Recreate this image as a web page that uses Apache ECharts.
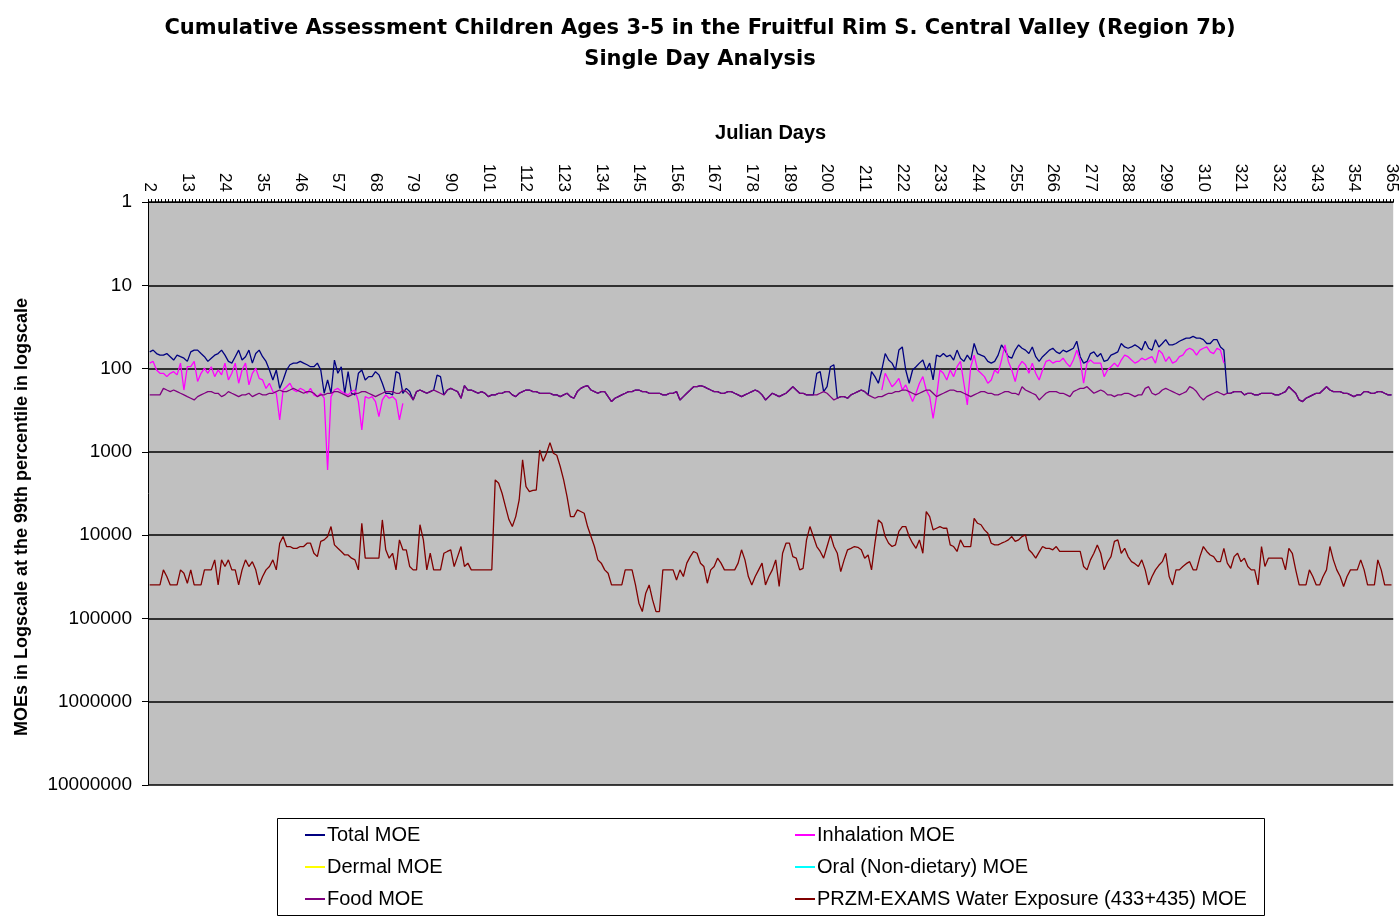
<!DOCTYPE html>
<html>
<head>
<meta charset="utf-8">
<script src="https://cdn.jsdelivr.net/npm/echarts@6.0.0/dist/echarts.min.js"></script>
<style>
html,body{margin:0;padding:0;background:#fff;}
#chart{width:1400px;height:917px;}
</style>
</head>
<body>
<div id="chart"></div>
<script>
// ---- categories (Julian days) ----
const firstDay = 2;
const lastDay = 365;
const days = [];
for (let d = firstDay; d <= lastDay; d++) days.push(String(d));

// ---- series values, one per day from day 2 to day 365 ----
const totalMOE = [
  63, 60, 66, 69, 69, 66, 72, 79, 69, 72,
  75, 82, 63, 60, 60, 66, 72, 82, 75, 69,
  66, 60, 69, 82, 86, 72, 60, 79, 72, 60,
  86, 66, 60, 72, 82, 104, 137, 104, 173, 137,
  104, 90, 86, 86, 82, 86, 90, 95, 95, 86,
  104, 198, 137, 198, 79, 114, 95, 198, 109, 198,
  207, 114, 104, 137, 125, 125, 109, 119, 150, 198,
  198, 207, 109, 114, 198, 173, 189, 238, 189, 181,
  189, 198, 189, 181, 120, 125, 207, 181, 173, 181,
  189, 227, 160, 181, 181, 189, 198, 189, 198, 217,
  207, 207, 198, 198, 189, 189, 207, 217, 198, 189,
  181, 181, 189, 189, 198, 198, 198, 198, 207, 207,
  217, 207, 198, 217, 227, 189, 173, 165, 160, 181,
  189, 198, 189, 189, 217, 249, 227, 217, 207, 198,
  189, 189, 181, 181, 189, 189, 198, 198, 198, 198,
  207, 207, 198, 198, 189, 238, 217, 198, 181, 165,
  165, 160, 165, 173, 181, 189, 189, 198, 198, 189,
  189, 198, 207, 217, 207, 198, 189, 181, 189, 207,
  238, 217, 198, 207, 217, 207, 198, 181, 165, 181,
  198, 198, 207, 207, 207, 114, 109, 189, 165, 95,
  90, 227, 217, 217, 227, 207, 198, 189, 181, 189,
  207, 109, 125, 150, 104, 66, 79, 86, 104, 60,
  55, 104, 150, 104, 95, 86, 79, 104, 86, 137,
  69, 72, 66, 72, 69, 79, 60, 75, 82, 69,
  79, 50, 66, 69, 72, 82, 86, 82, 69, 52,
  60, 72, 75, 60, 52, 57, 60, 66, 55, 72,
  82, 72, 66, 60, 57, 63, 66, 60, 63, 60,
  57, 47, 72, 86, 82, 66, 63, 72, 66, 82,
  79, 69, 66, 63, 50, 55, 57, 55, 52, 55,
  60, 47, 57, 60, 45, 55, 50, 45, 52, 52,
  50, 47, 45, 43, 43, 41, 43, 43, 45, 50,
  50, 45, 45, 55, 60, 198, 198, 189, 189, 189,
  207, 198, 198, 207, 207, 198, 198, 198, 198, 207,
  207, 198, 189, 165, 181, 198, 238, 249, 227, 217,
  207, 198, 198, 181, 165, 181, 189, 189, 189, 198,
  198, 207, 217, 207, 207, 189, 189, 198, 198, 189,
  189, 198, 207, 207
];

// inhalation is only present on two stretches of the year
const inhalationSpringStart = 2;
const inhalationSpring = [
  86, 82, 104, 114, 114, 125, 114, 109, 119, 86,
  181, 95, 95, 82, 143, 114, 99, 114, 95, 125,
  104, 119, 86, 137, 114, 86, 150, 104, 86, 157,
  114, 99, 131, 137, 173, 150, 189, 198, 414, 181,
  165, 150, 181, 189, 173, 181, 198, 173, 207, 217,
  198, 227, 1650, 217, 181, 173, 189, 198, 207, 189,
  181, 249, 546, 217, 227, 217, 249, 378, 238, 207,
  227, 217, 238, 414, 261
];
const inhalationFallStart = 216;
const inhalationFall = [
  181, 114, 137, 165, 150, 131, 181, 157, 198, 249,
  198, 150, 125, 181, 217, 396, 217, 104, 114, 137,
  104, 125, 95, 82, 150, 273, 95, 69, 104, 114,
  125, 150, 137, 104, 114, 79, 52, 82, 104, 143,
  95, 82, 90, 114, 86, 114, 137, 104, 82, 79,
  86, 82, 82, 75, 86, 95, 79, 60, 79, 150,
  86, 79, 86, 86, 86, 125, 104, 95, 86, 95,
  79, 69, 72, 79, 86, 82, 75, 79, 75, 72,
  86, 60, 66, 82, 72, 86, 82, 72, 69, 60,
  57, 60, 69, 60, 57, 55, 63, 66, 57, 60,
  86
];

const dermalMOE = [];
const oralMOE = [];

const foodMOE = [
  207, 207, 207, 207, 173, 181, 189, 181, 189, 198,
  207, 217, 227, 238, 217, 207, 198, 189, 189, 198,
  198, 217, 207, 189, 198, 207, 217, 207, 207, 198,
  217, 207, 198, 207, 207, 198, 198, 189, 181, 189,
  189, 181, 173, 181, 189, 198, 189, 189, 198, 217,
  207, 207, 198, 198, 189, 189, 198, 207, 217, 207,
  198, 198, 189, 189, 198, 207, 217, 207, 198, 189,
  189, 189, 198, 198, 181, 189, 207, 238, 189, 181,
  189, 198, 189, 181, 189, 198, 207, 181, 173, 181,
  189, 227, 160, 181, 181, 189, 198, 189, 198, 217,
  207, 207, 198, 198, 189, 189, 207, 217, 198, 189,
  181, 181, 189, 189, 198, 198, 198, 198, 207, 207,
  217, 207, 198, 217, 227, 189, 173, 165, 160, 181,
  189, 198, 189, 189, 217, 249, 227, 217, 207, 198,
  189, 189, 181, 181, 189, 189, 198, 198, 198, 198,
  207, 207, 198, 198, 189, 238, 217, 198, 181, 165,
  165, 160, 165, 173, 181, 189, 189, 198, 198, 189,
  189, 198, 207, 217, 207, 198, 189, 181, 189, 207,
  238, 217, 198, 207, 217, 207, 198, 181, 165, 181,
  198, 198, 207, 207, 207, 207, 198, 189, 198, 217,
  238, 227, 217, 217, 227, 207, 198, 189, 181, 189,
  207, 217, 227, 217, 217, 207, 198, 198, 189, 189,
  181, 181, 189, 198, 207, 198, 189, 181, 181, 198,
  217, 207, 198, 189, 181, 181, 189, 189, 198, 207,
  217, 207, 198, 189, 189, 198, 198, 207, 207, 198,
  189, 189, 198, 198, 207, 165, 181, 189, 198, 207,
  238, 217, 198, 189, 189, 189, 198, 198, 207, 217,
  189, 181, 173, 173, 165, 181, 198, 189, 181, 189,
  207, 207, 217, 207, 207, 198, 198, 207, 217, 207,
  207, 173, 165, 198, 207, 198, 181, 173, 181, 189,
  198, 207, 198, 189, 165, 173, 189, 217, 238, 217,
  207, 198, 189, 198, 207, 198, 198, 189, 189, 189,
  207, 198, 198, 207, 207, 198, 198, 198, 198, 207,
  207, 198, 189, 165, 181, 198, 238, 249, 227, 217,
  207, 198, 198, 181, 165, 181, 189, 189, 189, 198,
  198, 207, 217, 207, 207, 189, 189, 198, 198, 189,
  189, 198, 207, 207
];

const waterMOE = [
  39600, 39600, 39600, 39600, 26100, 31400, 39600, 39600, 39600, 26100,
  28700, 37800, 26100, 39600, 39600, 39600, 26100, 26100, 26100, 19800,
  39600, 19800, 23800, 19800, 26100, 26100, 39600, 26100, 19800, 23800,
  20800, 26100, 39600, 31400, 26100, 23800, 19800, 26100, 12500, 10400,
  13700, 13700, 14400, 14400, 13700, 13700, 12500, 12500, 16500, 18100,
  11900, 11400, 10400, 7890, 13100, 14400, 15700, 17300, 17300, 18900,
  19800, 26100, 7200, 18900, 18900, 18900, 18900, 18900, 6570, 15000,
  18900, 16500, 26100, 11400, 15000, 15000, 23800, 26100, 26100, 7500,
  11400, 26100, 16500, 26100, 26100, 26100, 16500, 15700, 15000, 23800,
  18100, 13700, 23800, 21700, 26100, 26100, 26100, 26100, 26100, 26100,
  26100, 2170, 2380, 3140, 4540, 6500, 7890, 5990, 3780, 1250,
  2610, 3000, 2900, 2870, 950, 1300, 1040, 775, 1040, 1100,
  1500, 2170, 3450, 5990, 5990, 4980, 5200, 5460, 7890, 10400,
  13700, 19800, 21700, 26100, 28700, 39600, 39600, 39600, 39600, 26100,
  26100, 26100, 39600, 65700, 82700, 49800, 39600, 59900, 82700, 82700,
  26100, 26100, 26100, 26100, 34500, 26100, 31400, 21700, 18100, 15700,
  16500, 21700, 23800, 37800, 26100, 23800, 18900, 21700, 26100, 26100,
  26100, 26100, 21700, 15000, 19800, 31400, 39600, 31400, 26100, 21700,
  39600, 31400, 26100, 19800, 41400, 16500, 12500, 12500, 18100, 18900,
  26100, 25000, 11400, 7890, 10400, 13700, 15700, 18900, 13700, 9940,
  13700, 16500, 27400, 19800, 15000, 14400, 13700, 14000, 15000, 18900,
  17300, 26100, 12500, 6570, 7200, 10400, 12500, 13700, 13100, 9000,
  7890, 7890, 10400, 12500, 14400, 11400, 16500, 5220, 5990, 8650,
  8260, 7890, 8260, 8260, 13100, 13700, 15700, 11400, 13700, 13700,
  13700, 6270, 7200, 7500, 8650, 9490, 12500, 13100, 13100, 12500,
  12000, 11400, 10400, 11900, 11400, 10400, 9940, 15000, 16500, 18900,
  16000, 13700, 14400, 14400, 15000, 13700, 15700, 15700, 15700, 15700,
  15700, 15700, 15700, 23800, 26100, 19800, 16500, 13100, 16500, 26100,
  21000, 18100, 11900, 11400, 16500, 14400, 18100, 20800, 22000, 23800,
  19800, 26100, 39600, 31400, 26100, 23000, 20800, 16500, 31400, 39600,
  26100, 26100, 23800, 22000, 20800, 26100, 26100, 18100, 13700, 15700,
  17300, 18100, 20800, 20800, 14400, 21700, 25000, 18100, 16500, 20800,
  18900, 23800, 26100, 26100, 39600, 13700, 23800, 18900, 18900, 18900,
  18900, 18900, 26100, 14400, 16500, 26100, 39600, 39600, 39600, 26100,
  31400, 39600, 39600, 31400, 26100, 13700, 19800, 26100, 31400, 41400,
  31400, 26100, 26100, 26100, 19800, 26100, 39600, 39600, 39600, 19800,
  26100, 39600, 39600, 39600
];

const yTickValues = [1, 10, 100, 1000, 10000, 100000, 1000000, 10000000];

// place the two inhalation stretches on the day axis
const inhalationMOE = days.map(function (label) {
  const d = Number(label);
  const a = d - inhalationSpringStart;
  if (a >= 0 && a < inhalationSpring.length) return inhalationSpring[a];
  const b = d - inhalationFallStart;
  if (b >= 0 && b < inhalationFall.length) return inhalationFall[b];
  return null;
});

const FONT = '"Liberation Sans", Arial, sans-serif';
const TITLE_FONT = '"DejaVu Sans", "Liberation Sans", Arial, sans-serif';
const chart = echarts.init(document.getElementById('chart'), null, {renderer: 'canvas'});

function lineSeries(name, data, color, width) {
  return {
    name: name, type: 'line', data: data, showSymbol: false, symbol: 'none',
    connectNulls: false, animation: false,
    lineStyle: {color: color, width: width},
    itemStyle: {color: color},
    emphasis: {disabled: true}
  };
}

const legendText = {fontFamily: FONT, fontSize: 20, color: '#000', lineHeight: 32, padding: [0, 0, 0, -3]};

chart.setOption({
  animation: false,
  backgroundColor: '#ffffff',
  textStyle: {fontFamily: FONT, color: '#000'},
  title: {
    text: 'Cumulative Assessment Children Ages 3-5 in the Fruitful Rim S. Central Valley (Region 7b)\nSingle Day Analysis',
    left: 'center', top: 8,
    textStyle: {fontFamily: TITLE_FONT, fontSize: 21, fontWeight: 'bold', lineHeight: 31, color: '#000'}
  },
  grid: {
    left: 148, right: 5, top: 202, bottom: 132,
    show: true, backgroundColor: '#C0C0C0', borderWidth: 0
  },
  xAxis: {
    type: 'category', position: 'top', data: days, boundaryGap: true,
    name: 'Julian Days', nameLocation: 'middle', nameGap: 59,
    nameTextStyle: {fontFamily: FONT, fontSize: 20, fontWeight: 'bold', color: '#000'},
    axisLine: {show: true, lineStyle: {color: '#000', width: 1}},
    axisTick: {show: true, interval: 0, length: 3, lineStyle: {color: '#000', width: 1}},
    axisLabel: {interval: 10, rotate: 90, fontSize: 17, color: '#000', margin: 10, fontFamily: FONT},
    splitLine: {show: false}
  },
  yAxis: {
    type: 'log', logBase: 10, min: yTickValues[0], max: yTickValues[yTickValues.length - 1],
    inverse: true,
    axisLine: {show: true, lineStyle: {color: '#000', width: 1}},
    axisTick: {show: true, length: 6, lineStyle: {color: '#000'}},
    axisLabel: {
      fontSize: 19, color: '#000', margin: 16, fontFamily: FONT,
      formatter: function (v) { return String(Math.round(v)); }
    },
    splitLine: {show: true, lineStyle: {color: '#000', width: 1.5}}
  },
  legend: [
    {
      data: ['Total MOE', 'Dermal MOE', 'Food MOE'],
      orient: 'vertical', left: 305, top: 819, padding: 0, height: 100,
      itemWidth: 20, itemHeight: 2, itemGap: 0, icon: 'rect',
      selectedMode: false, textStyle: legendText
    },
    {
      data: ['Inhalation MOE', 'Oral (Non-dietary) MOE', 'PRZM-EXAMS Water Exposure (433+435) MOE'],
      orient: 'vertical', left: 795, top: 819, padding: 0, height: 100,
      itemWidth: 20, itemHeight: 2, itemGap: 0, icon: 'rect',
      selectedMode: false, textStyle: legendText
    }
  ],
  graphic: [
    {
      type: 'rect', z: 0,
      shape: {x: 277.5, y: 818.5, width: 987, height: 97},
      style: {fill: 'transparent', stroke: '#000', lineWidth: 1}
    },
    {
      type: 'text', x: 22, y: 517, rotation: Math.PI / 2,
      style: {
        text: 'MOEs in Logscale at the 99th percentile in logscale',
        font: 'bold 18px ' + FONT, fill: '#000',
        textAlign: 'center', textVerticalAlign: 'middle'
      }
    }
  ],
  series: [
    lineSeries('Total MOE', totalMOE, '#000080', 1.3),
    lineSeries('Inhalation MOE', inhalationMOE, '#FF00FF', 1.3),
    lineSeries('Dermal MOE', dermalMOE, '#FFFF00', 1.3),
    lineSeries('Oral (Non-dietary) MOE', oralMOE, '#00FFFF', 1.3),
    lineSeries('Food MOE', foodMOE, '#800080', 1.3),
    lineSeries('PRZM-EXAMS Water Exposure (433+435) MOE', waterMOE, '#800000', 1.3)
  ]
});
</script>
</body>
</html>
